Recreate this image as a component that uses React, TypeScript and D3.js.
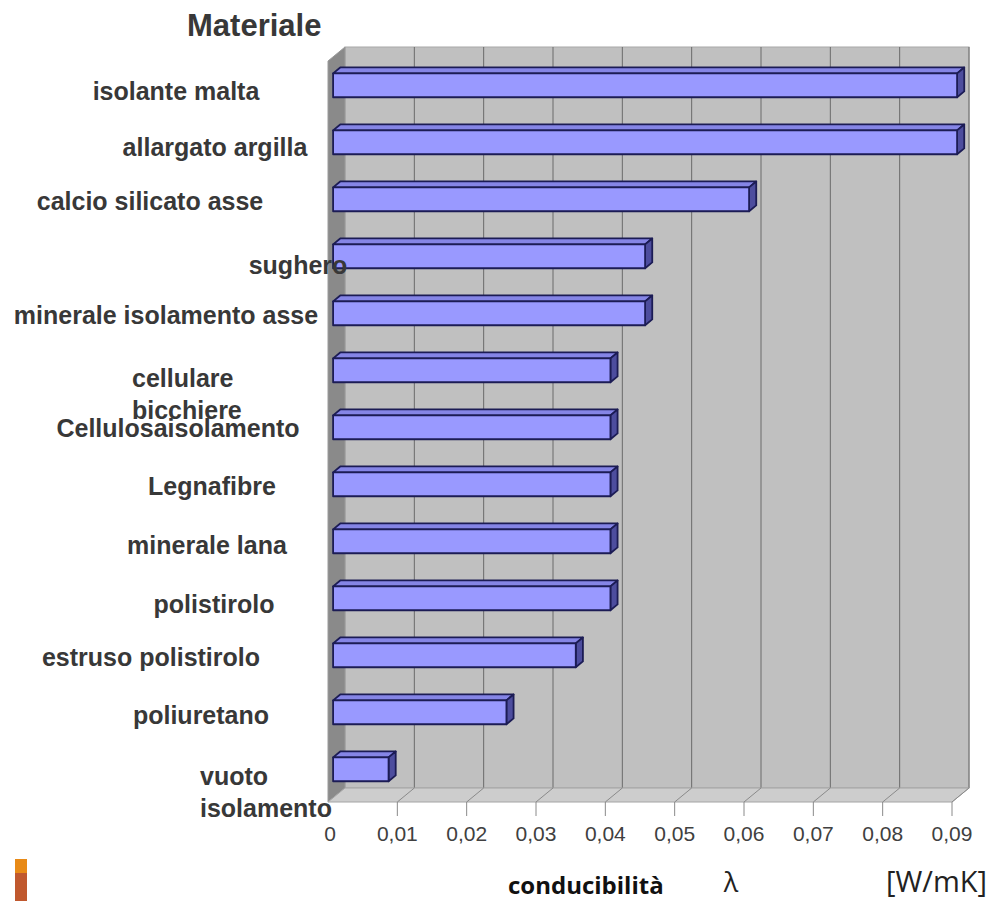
import React, { useEffect } from "react";
import * as d3 from "d3";

// ---- data ----
const categories: string[][] = [
  ["isolante malta"],
  ["allargato argilla"],
  ["calcio silicato asse"],
  ["sughero"],
  ["minerale isolamento asse"],
  ["cellulare", "bicchiere"],
  ["Cellulosaisolamento"],
  ["Legnafibre"],
  ["minerale lana"],
  ["polistirolo"],
  ["estruso polistirolo"],
  ["poliuretano"],
  ["vuoto", "isolamento"],
];
const values: number[] = [0.09, 0.09, 0.06, 0.045, 0.045, 0.04, 0.04, 0.04, 0.04, 0.04, 0.035, 0.025, 0.008];
const ticks: number[] = [0, 0.01, 0.02, 0.03, 0.04, 0.05, 0.06, 0.07, 0.08, 0.09];
const tickLabels: string[] = ["0", "0,01", "0,02", "0,03", "0,04", "0,05", "0,06", "0,07", "0,08", "0,09"];
const title = "Materiale";
const xTitle = "conducibilità";
const xSymbol = "λ";
const xUnit = "[W/mK]";

// ---- layout (label placement as in the original image) ----
const labelAnchor: string[] = ["middle", "middle", "middle", "middle", "middle", "start", "middle", "middle", "middle", "middle", "middle", "middle", "start"];
const labelX: number[] = [176, 215, 150, 298, 166, 132, 178, 212, 207, 214, 151, 201, 200];
const labelDy: number[] = [6, 5, 2, 9, 2, 24, 1, 2, 4, 6, 2, 3, 23];

const W = 992;
const H = 901;
const DX = 17; // oblique depth offsets
const DY = 14;
const FRONT_TOP = 61;
const FRONT_BOTTOM = 802;

export default function App() {
  useEffect(() => {
    document.body.style.margin = "0";
  }, []);

  const x = d3.scaleLinear().domain([0, 0.09]).range([328, 952]);
  const y = d3
    .scaleBand<number>()
    .domain(d3.range(categories.length))
    .range([FRONT_TOP, FRONT_BOTTOM])
    .paddingInner(0.58)
    .paddingOuter(0.29);

  const backLeft = x(0) + DX;
  const backRight = x(0.09) + DX;
  const backTop = FRONT_TOP - DY;
  const backBottom = FRONT_BOTTOM - DY;

  const pts = (a: number[][]) => a.map((p) => p.join(",")).join(" ");

  const d0 = 0.3;
  const d1 = 0.72;
  const labelFont = "'Liberation Sans', Arial, sans-serif";

  return (
    <div style={{ position: "absolute", left: 0, top: 0 }}>
      <svg width={W} height={H} style={{ display: "block", background: "#fff" }}>
        {/* back wall */}
        <rect x={backLeft} y={backTop} width={backRight - backLeft} height={backBottom - backTop} fill="#c0c0c0" stroke="#a8a8a8" strokeWidth={1} />
        {ticks.slice(1).map((t, i) => (
          <line key={"g" + i} x1={x(t) + DX} x2={x(t) + DX} y1={backTop} y2={backBottom} stroke="#6a6a6a" strokeWidth={1} />
        ))}
        {/* side wall */}
        <polygon
          points={pts([
            [x(0), FRONT_TOP],
            [backLeft, backTop],
            [backLeft, backBottom],
            [x(0), FRONT_BOTTOM],
          ])}
          fill="#8a8a8a"
          stroke="#9a9a9a"
          strokeWidth={1}
        />
        {/* floor */}
        <polygon
          points={pts([
            [x(0), FRONT_BOTTOM],
            [backLeft, backBottom],
            [backRight, backBottom],
            [x(0.09), FRONT_BOTTOM],
          ])}
          fill="#cdcdcd"
          stroke="#a4a4a4"
          strokeWidth={1}
        />
        {ticks.slice(1).map((t, i) => (
          <g key={"f" + i}>
            <line x1={x(t) + DX} y1={backBottom} x2={x(t)} y2={FRONT_BOTTOM} stroke="#8a8a8a" strokeWidth={1} />
            <line x1={x(t)} y1={FRONT_BOTTOM} x2={x(t)} y2={FRONT_BOTTOM + 14} stroke="#8a8a8a" strokeWidth={1} />
          </g>
        ))}

        {/* bars */}
        {values.map((v, i) => {
          const yt = (y(i) as number) - d0 * DY;
          const yb = yt + y.bandwidth();
          const xl = x(0) + d0 * DX;
          const xr = x(v) + d0 * DX;
          const ox = (d1 - d0) * DX;
          const oy = (d1 - d0) * DY;
          return (
            <g key={"b" + i} stroke="#1c1c55" strokeWidth={1.8} strokeLinejoin="round">
              <polygon points={pts([[xl, yt], [xl + ox, yt - oy], [xr + ox, yt - oy], [xr, yt]])} fill="#8585e6" />
              <polygon points={pts([[xr, yt], [xr + ox, yt - oy], [xr + ox, yb - oy], [xr, yb]])} fill="#4d4d9e" />
              <rect x={xl} y={yt} width={xr - xl} height={yb - yt} fill="#9999ff" />
            </g>
          );
        })}

        {/* category labels */}
        {categories.map((lines, i) => {
          const cy = (y(i) as number) - d0 * DY + y.bandwidth() / 2 + labelDy[i];
          const lh = 32;
          const start = cy - ((lines.length - 1) * lh) / 2;
          return (
            <text
              key={"l" + i}
              x={labelX[i]}
              textAnchor={labelAnchor[i] as any}
              fontFamily={labelFont}
              fontWeight="bold"
              fontSize={25}
              fill="#383838"
            >
              {lines.map((ln, j) => (
                <tspan key={j} x={labelX[i]} y={start + j * lh} dy="0.35em">
                  {ln}
                </tspan>
              ))}
            </text>
          );
        })}

        {/* title */}
        <text x={187} y={36} fontFamily={labelFont} fontWeight="bold" fontSize={31} fill="#383838">
          {title}
        </text>

        {/* x tick labels */}
        {ticks.map((t, i) => (
          <text
            key={"t" + i}
            x={x(t) + (i === 0 ? 2 : 0)}
            y={841}
            textAnchor="middle"
            fontFamily={labelFont}
            fontSize={21}
            fill="#404040"
          >
            {tickLabels[i]}
          </text>
        ))}

        {/* axis title */}
        <text x={508} y={894} fontFamily="'Open Sans', 'Noto Sans', sans-serif" fontWeight="bold" fontSize={24} fill="#111">
          {xTitle}
        </text>
        <text x={731} y={892} textAnchor="middle" fontFamily="'Open Sans', 'Noto Sans', sans-serif" fontSize={27} fill="#222">
          {xSymbol}
        </text>
        <text x={886} y={892} fontFamily="'Open Sans', 'Noto Sans', sans-serif" fontSize={29} fill="#222">
          {xUnit}
        </text>

        {/* decorative marks bottom-left */}
        <rect x={15} y={859} width={12} height={14} fill="#e88a17" />
        <rect x={15} y={873} width={12} height={28} fill="#c0582e" />
      </svg>
    </div>
  );
}
